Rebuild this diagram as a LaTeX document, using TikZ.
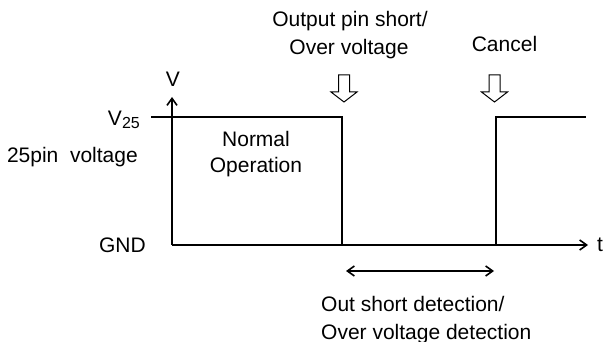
\documentclass[tikz,border=0pt]{standalone}
\usepackage{fontspec}
\setmainfont{Liberation Sans}
\usetikzlibrary{arrows.meta}
\begin{document}
\begin{tikzpicture}[x=1pt,y=-1pt,
  font=\fontsize{21}{25}\selectfont,
  sig/.style={line width=2.8pt},
  ax/.style={line width=2.6pt,-{Straight Barb[length=7pt,width=10pt,line width=1.6pt]}},
  dbl/.style={line width=1.8pt,{Straight Barb[length=7pt,width=10pt,line width=1.6pt]}-{Straight Barb[length=7pt,width=10pt,line width=1.6pt]}},
  txt/.style={anchor=base,inner sep=0pt},
  hollow/.style={draw,line width=1pt,fill=white,line join=miter}]
\useasboundingbox (0,0) rectangle (606,342);
% axes
\coordinate (o) at (172,245);
\coordinate (ytip) at (172,97);
\coordinate (xtip) at (588,245);
\draw[ax] (o) -- (ytip);
\draw[ax] (o) -- (xtip);
% signal
\coordinate (h0) at (151,117);
\coordinate (f1) at (342,117);
\coordinate (f2) at (342,245);
\coordinate (r1) at (496,245);
\coordinate (r2) at (496,117);
\coordinate (h3) at (586,117);
\draw[sig] (h0) -- (f1) -- (f2);
\draw[sig] (r1) -- (r2) -- (h3);
% detection interval
\coordinate (d1) at (346,271);
\coordinate (d2) at (494,271);
\draw[dbl] (d1) -- (d2);
% hollow arrows
\draw[hollow,shift={(344,0)}] (-5.5,75) -- (5.5,75) -- (5.5,92) -- (13,92) -- (0,102) -- (-13,92) -- (-5.5,92) -- cycle;
\draw[hollow,shift={(494.5,0)}] (-5.5,75) -- (5.5,75) -- (5.5,92) -- (13,92) -- (0,102) -- (-13,92) -- (-5.5,92) -- cycle;
% texts
\node[txt] (lab1) at (350,27) {Output pin short/};
\node[txt] (lab2) at (349,55) {Over voltage};
\node[txt] (cancel) at (504.5,52) {Cancel};
\node[txt] (norm1) at (256,147) {Normal};
\node[txt] (norm2) at (256,173) {Operation};
\node[txt,anchor=base west] (det1) at (321,312) {Out short detection/};
\node[txt,anchor=base west] (det2) at (321,339) {Over voltage detection};
\node[txt,anchor=base east] (v25) at (140,126) {V\raisebox{-2.5pt}{\fontsize{16}{19}\selectfont 25}};
\node[txt,anchor=base east] (pin) at (138,163) {25pin\ \ voltage};
\node[txt,anchor=base east] (gnd) at (146,253) {GND};
\node[txt] (vlab) at (173,87) {V};
\node[txt,anchor=base west] (tlab) at (597,252) {t};
\end{tikzpicture}
\end{document}
